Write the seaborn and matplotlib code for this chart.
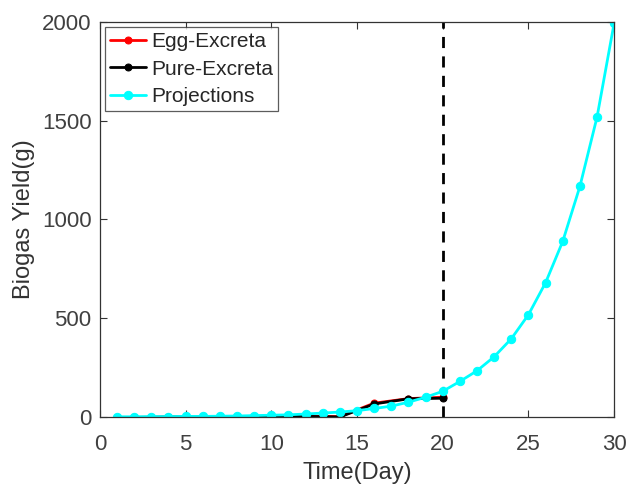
import numpy as np
import pandas as pd
import matplotlib
matplotlib.use("Agg")
import matplotlib.pyplot as plt
import seaborn as sns

# Data
days_measured = [2, 4, 6, 8, 10, 12, 14, 16, 18, 20]
egg_excreta = [-2, 0, 1, 1, 3, 4, 2, 70, 93, 100]
pure_excreta = [-4, 0, 0, 1, 2, 3, 0, 66, 92, 95]

days_proj = list(range(1, 31))
projections = [1, 1, 2, 2, 3, 3, 4, 5, 7, 9, 11, 15, 20, 25, 32, 43, 55, 75, 100, 130,
               180, 234, 305, 396, 518, 680, 889, 1167, 1518, 1995]

x_ticks = [0, 5, 10, 15, 20, 25, 30]
y_ticks = [0, 500, 1000, 1500, 2000]

sns.set_theme(style="white")
plt.rcParams['font.family'] = ['Liberation Sans', 'DejaVu Sans']

fig = plt.figure(figsize=(6.28, 4.86), dpi=100)
ax = fig.add_axes([0.159, 0.142, 0.819, 0.813])

df_egg = pd.DataFrame({"Day": days_measured, "Yield": egg_excreta})
df_pure = pd.DataFrame({"Day": days_measured, "Yield": pure_excreta})
df_proj = pd.DataFrame({"Day": days_proj, "Yield": projections})

sns.lineplot(data=df_egg, x="Day", y="Yield", ax=ax, color="red", marker="o",
             markersize=5, markeredgecolor="red", linewidth=2, label="Egg-Excreta")
sns.lineplot(data=df_pure, x="Day", y="Yield", ax=ax, color="black", marker="o",
             markersize=5, markeredgecolor="black", linewidth=2, label="Pure-Excreta")
sns.lineplot(data=df_proj, x="Day", y="Yield", ax=ax, color="#00ffff", marker="o",
             markersize=6, markeredgecolor="#00ffff", linewidth=2, label="Projections")

ax.plot([20, 20], [0, 2000], color="black", linestyle=(0, (4, 3)), linewidth=2, zorder=1)

ax.set_xlim(0, 30)
ax.set_ylim(0, 2000)
ax.set_xticks(x_ticks)
ax.set_yticks(y_ticks)
ax.set_xlabel("Time(Day)", fontsize=17, color="#333333", labelpad=5)
ax.set_ylabel("Biogas Yield(g)", fontsize=17, color="#333333", labelpad=5)
ax.tick_params(axis="both", direction="in", length=5, width=0.8, labelsize=16,
               labelcolor="#404040", color="#333333", top=True, right=True,
               bottom=True, left=True)
ax.tick_params(axis="x", pad=12)
ax.tick_params(axis="y", pad=6)
for s in ax.spines.values():
    s.set_color("#333333")
    s.set_linewidth(0.9)

leg = ax.legend(loc="upper left", fontsize=15, frameon=True, fancybox=False,
                borderpad=0.25, labelspacing=0.4, handlelength=1.7, handletextpad=0.25,
                borderaxespad=0.25)
leg.get_frame().set_edgecolor("#333333")
leg.get_frame().set_linewidth(0.9)

fig.savefig("out.png", dpi=100)
